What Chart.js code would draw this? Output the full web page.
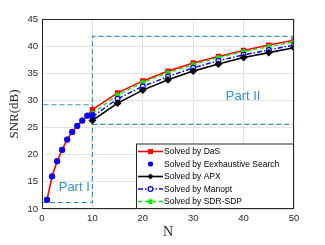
<!DOCTYPE html>
<html>
<head>
<meta charset="utf-8">
<script src="https://cdn.jsdelivr.net/npm/chart.js@4/dist/chart.umd.min.js"></script>
<style>
  html, body { margin: 0; padding: 0; background: #fff; }
  #wrap { width: 325px; height: 245px; }
</style>
</head>
<body>
<div id="wrap"><canvas id="chart" width="325" height="245"></canvas></div>
<script>
// N values
const nSmall = [1, 2, 3, 4, 5, 6, 7, 8, 9, 10];
const nLarge = [10, 15, 20, 25, 30, 35, 40, 45, 50];
const nDas = [1, 2, 3, 4, 5, 6, 7, 8, 9, 10, 15, 20, 25, 30, 35, 40, 45, 50];

// SNR (dB)
const snrDas = [11.7, 16.0, 18.8, 20.9, 22.8, 24.2, 25.3, 26.3, 27.2, 28.3, 31.4, 33.6, 35.4, 36.9, 38.1, 39.2, 40.2, 41.1];
const snrExhaustive = [11.7, 16.0, 18.8, 20.9, 22.8, 24.2, 25.3, 26.3, 27.2, 27.3];
const snrApx = [26.3, 29.5, 31.9, 33.8, 35.4, 36.7, 37.9, 38.8, 39.7];
const snrManopt = [27.0, 30.3, 32.6, 34.4, 36.0, 37.3, 38.4, 39.3, 40.2];
const snrSdr = [27.6, 31.0, 33.3, 35.1, 36.6, 37.9, 39.0, 39.9, 40.8];

// zoom boxes: [xMin, xMax, yMin, yMax]
const boxPart1 = [0, 10, 11.2, 29.2];
const boxPart2 = [10, 50, 25.6, 41.8];
const partLabels = ["Part I", "Part II"];
const partLabelPos = [[6.4, 13.9], [39.9, 30.8]];

const xTicks = [0, 10, 20, 30, 40, 50];
const yTicks = [10, 15, 20, 25, 30, 35, 40, 45];

const zip = (xs, ys) => xs.map((x, i) => ({ x: x, y: ys[i] }));
const boxPoints = (b) => [
  { x: b[0], y: b[2] }, { x: b[1], y: b[2] }, { x: b[1], y: b[3] },
  { x: b[0], y: b[3] }, { x: b[0], y: b[2] }
];

const boxColor = "#3490d2";

const datasets = [
  {
    label: "Solved by DaS", data: zip(nDas, snrDas), order: 2,
    borderColor: "#ff0000", backgroundColor: "#ff0000", borderWidth: 1.6,
    pointStyle: "rect", pointRadius: 2.6, marker: "rect"
  },
  {
    label: "Solved by Eexhaustive Search", data: zip(nSmall, snrExhaustive), order: 0,
    showLine: false, borderColor: "#0000ff", backgroundColor: "#0000ff",
    pointStyle: "circle", pointRadius: 2.7, marker: "dot"
  },
  {
    label: "Solved by APX", data: zip(nLarge, snrApx), order: 1,
    borderColor: "#000000", backgroundColor: "#000000", borderWidth: 1.6,
    pointStyle: "rectRot", pointRadius: 2.8, marker: "diamond"
  },
  {
    label: "Solved by Manopt", data: zip(nLarge, snrManopt), order: 1,
    borderColor: "#0000ff", backgroundColor: "#ffffff", borderWidth: 1.4,
    borderDash: [5, 2, 1.5, 2], pointStyle: "circle", pointRadius: 2.4,
    pointBorderWidth: 1.2, marker: "ring"
  },
  {
    label: "Solved by SDR-SDP", data: zip(nLarge, snrSdr), order: 1,
    borderColor: "#00ee00", backgroundColor: "#00ee00", borderWidth: 1.4,
    borderDash: [4, 3], pointStyle: "star", pointRadius: 2.6, marker: "star"
  }
];

// legend entries are the real series; boxes come after
const seriesCount = datasets.length;

[boxPart1, boxPart2].forEach((b) => {
  datasets.push({
    label: "", data: boxPoints(b), order: 3, borderColor: boxColor, borderWidth: 1.2,
    borderDash: [5, 3], pointRadius: 0, fill: false
  });
});

function drawMarker(ctx, type, x, y, color) {
  ctx.save();
  ctx.strokeStyle = color;
  ctx.fillStyle = color;
  ctx.lineWidth = 1.2;
  ctx.setLineDash([]);
  ctx.beginPath();
  if (type === "rect") {
    ctx.rect(x - 2.5, y - 2.5, 5, 5);
    ctx.fill();
  } else if (type === "dot") {
    ctx.arc(x, y, 2.6, 0, Math.PI * 2);
    ctx.fill();
  } else if (type === "diamond") {
    ctx.moveTo(x, y - 3); ctx.lineTo(x + 3, y); ctx.lineTo(x, y + 3); ctx.lineTo(x - 3, y);
    ctx.closePath();
    ctx.fill();
  } else if (type === "ring") {
    ctx.fillStyle = "#fff";
    ctx.arc(x, y, 2.4, 0, Math.PI * 2);
    ctx.fill();
    ctx.stroke();
  } else if (type === "star") {
    for (let k = 0; k < 4; k++) {
      const a = k * Math.PI / 4;
      ctx.moveTo(x - 2.8 * Math.cos(a), y - 2.8 * Math.sin(a));
      ctx.lineTo(x + 2.8 * Math.cos(a), y + 2.8 * Math.sin(a));
    }
    ctx.stroke();
  }
  ctx.restore();
}

const overlayPlugin = {
  id: "overlay",
  afterDatasetsDraw(chart) {
    const { ctx, scales } = chart;
    // part labels
    ctx.save();
    ctx.font = "13px 'Liberation Sans', Arial, sans-serif";
    ctx.fillStyle = boxColor;
    ctx.textAlign = "center";
    ctx.textBaseline = "middle";
    partLabels.forEach((t, i) => {
      ctx.fillText(t, scales.x.getPixelForValue(partLabelPos[i][0]), scales.y.getPixelForValue(partLabelPos[i][1]));
    });
    ctx.restore();
  },
  afterDraw(chart) {
    const { ctx, chartArea } = chart;
    // plot frame
    ctx.save();
    ctx.strokeStyle = "#262626";
    ctx.lineWidth = 1;
    ctx.strokeRect(chartArea.left + 0.5, chartArea.top + 0.5, chartArea.right - chartArea.left - 1, chartArea.bottom - chartArea.top - 1);
    ctx.restore();

    // legend box (bottom right, inside axes)
    const w = 158, rowH = 12.5, h = rowH * seriesCount + 3;
    const x0 = chartArea.right - w, y0 = chartArea.bottom - h;
    ctx.save();
    ctx.fillStyle = "#fff";
    ctx.fillRect(x0, y0, w, h);
    ctx.strokeStyle = "#262626";
    ctx.lineWidth = 1;
    ctx.strokeRect(x0 + 0.5, y0 + 0.5, w - 1, h - 1);
    ctx.font = "8.5px 'Liberation Sans', Arial, sans-serif";
    ctx.textBaseline = "middle";
    for (let i = 0; i < seriesCount; i++) {
      const ds = chart.data.datasets[i];
      const y = y0 + 8 + i * rowH;
      if (ds.showLine !== false) {
        ctx.save();
        ctx.strokeStyle = ds.borderColor;
        ctx.lineWidth = ds.borderWidth;
        ctx.setLineDash(ds.borderDash || []);
        ctx.beginPath();
        ctx.moveTo(x0 + 2, y);
        ctx.lineTo(x0 + 27, y);
        ctx.stroke();
        ctx.restore();
      }
      drawMarker(ctx, ds.marker, x0 + 14.5, y, ds.borderColor);
      ctx.fillStyle = "#000";
      ctx.fillText(ds.label, x0 + 28, y + 0.5);
    }
    ctx.restore();
  }
};

const tickFont = { family: "'Liberation Sans', Arial, sans-serif", size: 9.5 };

new Chart(document.getElementById("chart"), {
  type: "line",
  data: { datasets: datasets },
  plugins: [overlayPlugin],
  options: {
    responsive: false,
    animation: false,
    layout: { padding: { top: 19, right: 31, left: 0, bottom: 0 } },
    plugins: { legend: { display: false }, tooltip: { enabled: false } },
    scales: {
      x: {
        type: "linear", min: 0, max: 50,
        afterBuildTicks: (s) => { s.ticks = xTicks.map((v) => ({ value: v })); },
        afterFit: (s) => { s.height = 36; },
        grid: { color: "#e3e3e3", tickLength: 0 },
        border: { display: false },
        ticks: { color: "#262626", font: tickFont, padding: 4, maxRotation: 0 },
        title: {
          display: true, text: "N", color: "#262626",
          font: { family: "'Liberation Serif', 'Times New Roman', serif", size: 14 },
          padding: { top: 0, bottom: 4 }
        }
      },
      y: {
        min: 10, max: 45,
        afterBuildTicks: (s) => { s.ticks = yTicks.map((v) => ({ value: v })); },
        afterFit: (s) => { s.width = 42; },
        grid: { color: "#e3e3e3", tickLength: 0 },
        border: { display: false },
        ticks: { color: "#262626", font: tickFont, padding: 4 },
        title: {
          display: true, text: "SNR(dB)", color: "#262626",
          font: { family: "'Liberation Serif', 'Times New Roman', serif", size: 13 },
          padding: { top: 7, bottom: 0 }
        }
      }
    }
  }
});
</script>
</body>
</html>
